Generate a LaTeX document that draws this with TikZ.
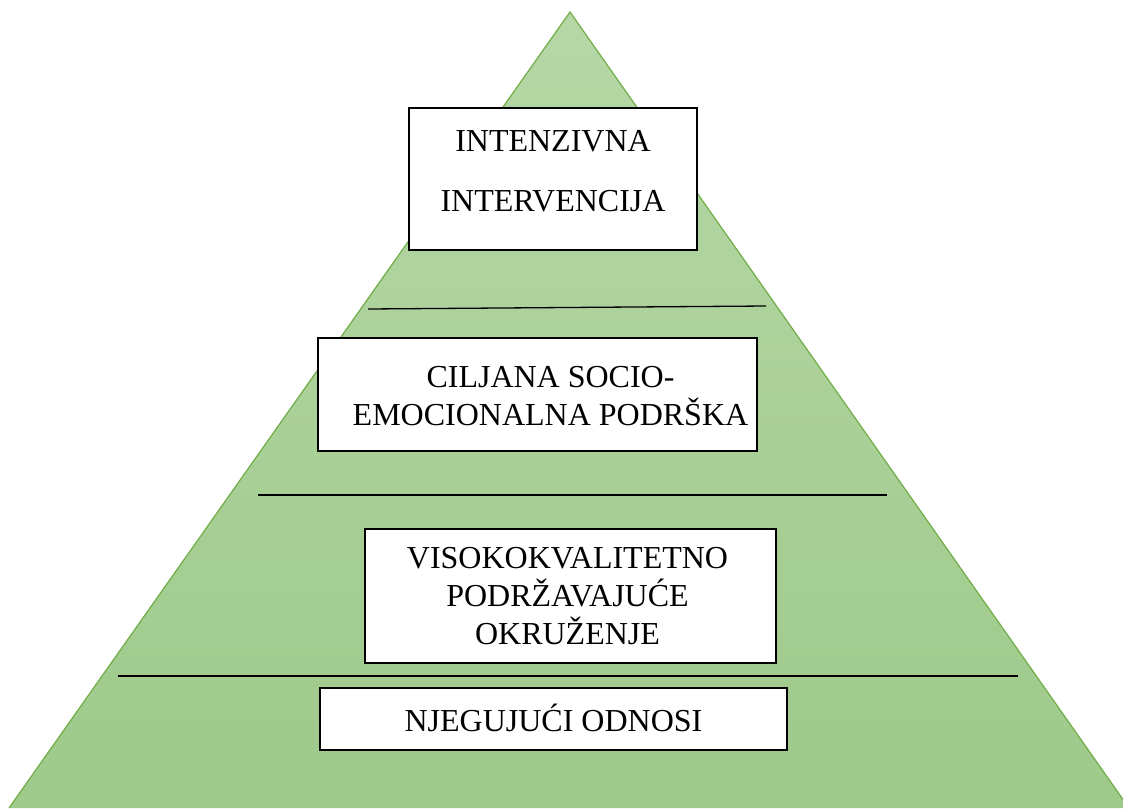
\documentclass[tikz,border=0pt]{standalone}
\usepackage{fontspec}
\setmainfont{Liberation Serif}
\definecolor{pyrtop}{RGB}{182,215,166}
\definecolor{pyrbot}{RGB}{158,202,138}
\definecolor{pyredge}{RGB}{112,173,71}
\begin{document}
\begin{tikzpicture}[x=1pt,y=-1pt,
  boxstyle/.style={draw=black,line width=1.6pt,fill=white,inner sep=0pt},
  txt/.style={align=center,inner sep=0pt,font=\fontsize{32}{38}\selectfont},
  divider/.style={draw=black,line width=1.3pt}]
\useasboundingbox (0,0) rectangle (1123,808);
\begin{scope}
\clip (0,0) rectangle (1123,808);
\coordinate (apex) at (570,12);
\coordinate (bl) at (9,808);
\coordinate (br) at (1129,808);
\shade[top color=pyrtop,bottom color=pyrbot] (apex) -- (br) -- (bl) -- cycle;
\draw[pyredge,line width=1.2pt,line join=miter] (bl) -- (apex) -- (br);
\end{scope}
% dividers
\coordinate (d1l) at (368,309); \coordinate (d1r) at (766,306);
\coordinate (d2l) at (258,495); \coordinate (d2r) at (887,495);
\coordinate (d3l) at (118,676); \coordinate (d3r) at (1018,676);
\draw[divider] (d1l) -- (d1r);
\draw[divider] (d2l) -- (d2r);
\draw[divider] (d3l) -- (d3r);
% boxes
\node[boxstyle,minimum width=288,minimum height=142] (b1) at (553,179) {};
\node[boxstyle,minimum width=439,minimum height=113] (b2) at (537.5,394.5) {};
\node[boxstyle,minimum width=411,minimum height=134] (b3) at (570.5,596) {};
\node[boxstyle,minimum width=467,minimum height=62] (b4) at (553.5,719) {};
% texts
\node[txt] (t1) at ([yshift=8]b1.center) {INTENZIVNA\\[22pt]INTERVENCIJA};
\node[txt] (t2) at ([xshift=13,yshift=-2]b2.center) {CILJANA SOCIO-\\EMOCIONALNA PODRŠKA};
\node[txt] (t3) at ([xshift=-3]b3.center) {VISOKOKVALITETNO\\PODRŽAVAJUĆE\\OKRUŽENJE};
\node[txt] (t4) at ([yshift=1]b4.center) {NJEGUJUĆI ODNOSI};
\end{tikzpicture}
\end{document}
